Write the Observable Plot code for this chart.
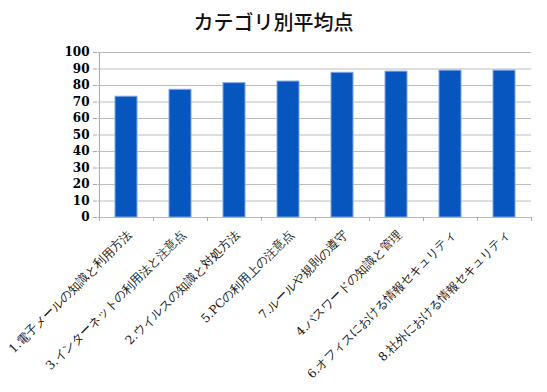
<!DOCTYPE html>
<html>
<head>
<meta charset="utf-8">
<script src="https://cdn.jsdelivr.net/npm/d3@7"></script>
<script src="https://cdn.jsdelivr.net/npm/@observablehq/plot@0.6"></script>
<style>
  html, body { margin: 0; padding: 0; background: #fff; }
  #title { width: 547px; height: 40px; text-align: center; font-family: "Noto Sans CJK JP", serif; font-size: 20px; font-weight: 500; line-height: 44px; color: #111; }
  .serif-num text { font-family: "DejaVu Serif", "Liberation Serif", "Times New Roman", serif !important; }
</style>
</head>
<body>
<div id="title">カテゴリ別平均点</div>
<div id="chart"></div>
<script>
const categories = [
  "1.電子メールの知識と利用方法",
  "3.インターネットの利用法と注意点",
  "2.ウイルスの知識と対処方法",
  "5.PCの利用上の注意点",
  "7.ルールや規則の遵守",
  "4.パスワードの知識と管理",
  "6.オフィスにおける情報セキュリティ",
  "8.社外における情報セキュリティ"
];
const values = [73.2, 77.4, 81.4, 82.4, 87.7, 88.4, 89.0, 89.0];
const yTicks = [0, 10, 20, 30, 40, 50, 60, 70, 80, 90, 100];

const data = categories.map((c, i) => ({cat: c, value: values[i]}));

const W = 547, H = 352, ML = 98, MR = 16;
const step = (W - ML - MR) / categories.length;
const half = step / 2;
const FONT = "'DejaVu Serif', 'Noto Sans CJK JP', serif";

const chart = Plot.plot({
  width: W,
  height: H,
  marginTop: 12,
  marginBottom: 175,
  marginLeft: ML,
  marginRight: MR,
  style: {fontSize: "12px", color: "#000", background: "#fff"},
  x: {domain: categories, paddingInner: 0.6, paddingOuter: 0.3, label: null},
  y: {domain: [0, 100], label: null},
  marks: [
    Plot.gridY(yTicks, {stroke: "#bcbcbc", strokeOpacity: 1, strokeWidth: 1}),
    Plot.barY(data, {x: "cat", y: "value", fill: "#0756c0", stroke: "#7fa6e2", strokeWidth: 1}),
    Plot.ruleX([categories[0]], {x: d => d, dx: -half, y1: 0, y2: 100, stroke: "#a8a8a8"}),
    Plot.ruleX(categories, {x: d => d, dx: -half, y1: -2.4, y2: 0, stroke: "#a8a8a8"}),
    Plot.ruleX([categories[categories.length - 1]], {x: d => d, dx: half, y1: -2.4, y2: 0, stroke: "#a8a8a8"}),
    Plot.axisY(yTicks, {tickSize: 4, tickPadding: 4, stroke: "#a8a8a8", fill: "#000", fontSize: 12, fontWeight: "bold", className: "serif-num", dx: -1}),
    Plot.axisX({tickSize: 0, tickRotate: -45, tickPadding: 15, fontSize: 12, fill: "#111", className: "serif-num", dx: 3})
  ]
});
document.getElementById("chart").appendChild(chart);
</script>
</body>
</html>
